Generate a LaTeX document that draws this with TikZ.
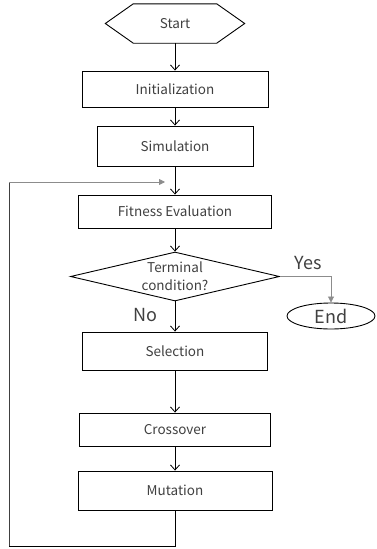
\documentclass[tikz,border=0pt]{standalone}
\usepackage{fontspec}
\setmainfont{Noto Sans CJK JP}
\usetikzlibrary{shapes.geometric,arrows.meta}
\definecolor{txt}{HTML}{404040}
\definecolor{loopc}{HTML}{8C8C8C}
\tikzset{
  procbox/.style={draw=black, line width=0.9pt, rectangle, inner sep=0pt, font=\fontsize{13.5}{16}\selectfont, text=txt},
  flow/.style={draw=black, line width=0.8pt, -{Straight Barb[length=5pt,width=9pt,line width=0.8pt]}},
  greyflow/.style={draw=loopc, line width=0.8pt, -{Triangle[length=6pt,width=6pt]}},
  biglabel/.style={font=\fontsize{18}{20}\selectfont, text=txt, inner sep=0pt}
}
\begin{document}
\begin{tikzpicture}[x=1pt,y=-1pt]
\useasboundingbox (0,0) rectangle (376,549);
% Start hexagon
\node[inner sep=0pt, minimum width=139, minimum height=39, font=\fontsize{13.5}{16}\selectfont, text=txt] (start) at (175,23.5) {Start};
\draw[line width=0.9pt] (start.west) -- ([xshift=28pt]start.north west) -- ([xshift=-28pt]start.north east) -- (start.east) -- ([xshift=-28pt]start.south east) -- ([xshift=28pt]start.south west) -- cycle;
\node[procbox, minimum width=186, minimum height=36] (init) at (175,89) {Initialization};
\node[procbox, minimum width=156, minimum height=40] (sim) at (175,146) {Simulation};
\node[procbox, minimum width=193, minimum height=33] (fit) at (175,211.5) {Fitness Evaluation};
\node[draw=black, line width=0.9pt, diamond, aspect=4.27, minimum width=209, minimum height=49, inner sep=0pt] (cond) at (175,276.5) {};
\node[align=center, font=\fontsize{13.5}{18.5}\selectfont, text=txt, inner sep=0pt] (condtxt) at (175,276) {Terminal\\condition?};
\node[draw=black, line width=0.9pt, ellipse, minimum width=88, minimum height=26, inner sep=0pt, font=\fontsize{18}{20}\selectfont, text=txt] (endn) at (331,316) {End};
\node[procbox, minimum width=185, minimum height=38] (sel) at (175,351) {Selection};
\node[procbox, minimum width=191, minimum height=33] (cross) at (175,429.5) {Crossover};
\node[procbox, minimum width=194, minimum height=39] (mut) at (175,490.5) {Mutation};
\node[biglabel] (yes) at (308,263) {Yes};
\node[biglabel] (no) at (145,315) {No};
% connectors
\draw[flow] (start) -- (init);
\draw[flow] (init) -- (sim);
\draw[flow] (sim) -- (fit);
\draw[flow] (fit) -- (cond.north);
\draw[flow] (cond.south) -- (sel);
\draw[flow] (sel) -- (cross);
\draw[flow] (cross) -- (mut);
\draw[greyflow] (cond.east) -| (endn.north);
% loop
\coordinate (lb) at (9,546);
\coordinate (lt) at (9,182);
\coordinate (lp) at (165,182);
\draw[black, line width=0.8pt] (mut.south) |- (lb);
\draw[black!75, line width=0.8pt] (lb) -- (lt);
\draw[greyflow] (lt) -- (lp);
\end{tikzpicture}
\end{document}
